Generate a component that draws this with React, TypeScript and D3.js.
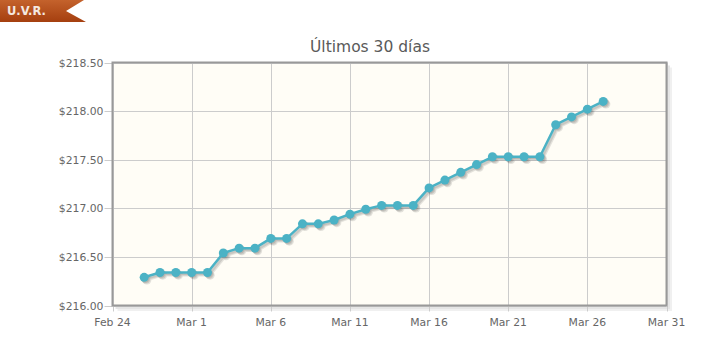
import React from "react";
import * as d3 from "d3";

const dates: string[] = [
  "2015-02-26","2015-02-27","2015-02-28","2015-03-01","2015-03-02","2015-03-03","2015-03-04","2015-03-05",
  "2015-03-06","2015-03-07","2015-03-08","2015-03-09","2015-03-10","2015-03-11","2015-03-12","2015-03-13",
  "2015-03-14","2015-03-15","2015-03-16","2015-03-17","2015-03-18","2015-03-19","2015-03-20","2015-03-21",
  "2015-03-22","2015-03-23","2015-03-24","2015-03-25","2015-03-26","2015-03-27",
];
const values: number[] = [
  216.29, 216.34, 216.34, 216.34, 216.34, 216.54, 216.59, 216.59,
  216.69, 216.69, 216.84, 216.84, 216.88, 216.94, 216.99, 217.03,
  217.03, 217.03, 217.21, 217.29, 217.37, 217.45, 217.53, 217.53,
  217.53, 217.53, 217.86, 217.94, 218.02, 218.10,
];
const yTicks: number[] = [216.0, 216.5, 217.0, 217.5, 218.0, 218.5];
const xTickLabels: string[] = ["2015-02-24","2015-03-01","2015-03-06","2015-03-11","2015-03-16","2015-03-21","2015-03-26","2015-03-31"];
const title = "Últimos 30 días";
const badge = "U.V.R.";

const parse = d3.utcParse("%Y-%m-%d");
const fmt = d3.utcFormat("%b %-d");

export default function App() {
  const W = 704, H = 357;
  const left = 112.5, right = 666.5, top = 62.5, bottom = 305.5;
  const x = d3.scaleUtc().domain([parse(xTickLabels[0])!, parse(xTickLabels[xTickLabels.length - 1])!]).range([left, right]);
  const y = d3.scaleLinear().domain([216, 218.5]).range([bottom, top]);
  const pts = dates.map((d, i) => ({ d: parse(d)!, v: values[i] }));
  const line = d3.line<{ d: Date; v: number }>().x(p => x(p.d)).y(p => y(p.v));
  const path = line(pts) || "";
  const font = "'DejaVu Sans', Verdana, sans-serif";
  return (
    <svg width={W} height={H} style={{ position: "absolute", left: 0, top: 0, background: "#fff" }}>
      <defs>
        <linearGradient id="bg" x1="0" y1="0" x2="0" y2="1">
          <stop offset="0" stopColor="#c4622c" />
          <stop offset="1" stopColor="#a53f0f" />
        </linearGradient>
      </defs>
      <path d="M0,0 L84,0 L66,11 L86,22 L0,22 Z" fill="url(#bg)" />
      <text x={7} y={15} fill="#f4e8e0" fontFamily={font} fontSize={11.5} fontWeight="bold">{badge}</text>
      <text x={370} y={52} textAnchor="middle" fill="#5a5a5a" fontFamily={font} fontSize={15.5}>{title}</text>
      <path d={`M${right + 2.5},${top + 3} L${right + 2.5},${bottom + 2.5} L${left + 3},${bottom + 2.5}`} fill="none" stroke="#000" strokeOpacity={0.1} strokeWidth={2} />
      <path d={`M${right + 4.5},${top + 5} L${right + 4.5},${bottom + 4.5} L${left + 5},${bottom + 4.5}`} fill="none" stroke="#000" strokeOpacity={0.06} strokeWidth={2} />
      <rect x={left} y={top} width={right - left} height={bottom - top} fill="#fffdf6" />
      {yTicks.map(t => (
        <line key={"gy" + t} x1={left} x2={right} y1={Math.round(y(t)) + 0.5} y2={Math.round(y(t)) + 0.5} stroke="#cccccc" strokeWidth={1} />
      ))}
      {xTickLabels.map(s => {
        const xx = Math.round(x(parse(s)!)) + 0.5;
        return <line key={"gx" + s} x1={xx} x2={xx} y1={top} y2={bottom} stroke="#cccccc" strokeWidth={1} />;
      })}
      {yTicks.map(t => (
        <line key={"ty" + t} x1={left - 8} x2={left} y1={Math.round(y(t)) + 0.5} y2={Math.round(y(t)) + 0.5} stroke="#cccccc" strokeWidth={1} />
      ))}
      {xTickLabels.map(s => {
        const xx = Math.round(x(parse(s)!)) + 0.5;
        return <line key={"tx" + s} x1={xx} x2={xx} y1={bottom} y2={bottom + 6} stroke="#cccccc" strokeWidth={1} />;
      })}
      <rect x={left} y={top} width={right - left} height={bottom - top} fill="none" stroke="#999999" strokeWidth={2} />
      {yTicks.map(t => (
        <text key={"ly" + t} x={left - 9} y={y(t) + 4} textAnchor="end" fill="#666" fontFamily={font} fontSize={10.8}>
          {"$" + t.toFixed(2)}
        </text>
      ))}
      {xTickLabels.map(s => (
        <text key={"lx" + s} x={x(parse(s)!)} y={bottom + 20} textAnchor="middle" fill="#666" fontFamily={font} fontSize={10.8}>
          {fmt(parse(s)!)}
        </text>
      ))}
      {[1, 2, 3].map(k => (
        <g key={"sh" + k} transform={`translate(${k * 0.9},${k * 0.9})`} opacity={0.1}>
          <path d={path} fill="none" stroke="#000" strokeWidth={2.5} />
          {pts.map((p, i) => <circle key={i} cx={x(p.d)} cy={y(p.v)} r={4.5} fill="#000" />)}
        </g>
      ))}
      <path d={path} fill="none" stroke="#4bb2c5" strokeWidth={2.5} strokeLinejoin="round" />
      {pts.map((p, i) => (
        <circle key={"pt" + i} cx={x(p.d)} cy={y(p.v)} r={4.5} fill="#4bb2c5" />
      ))}
    </svg>
  );
}
